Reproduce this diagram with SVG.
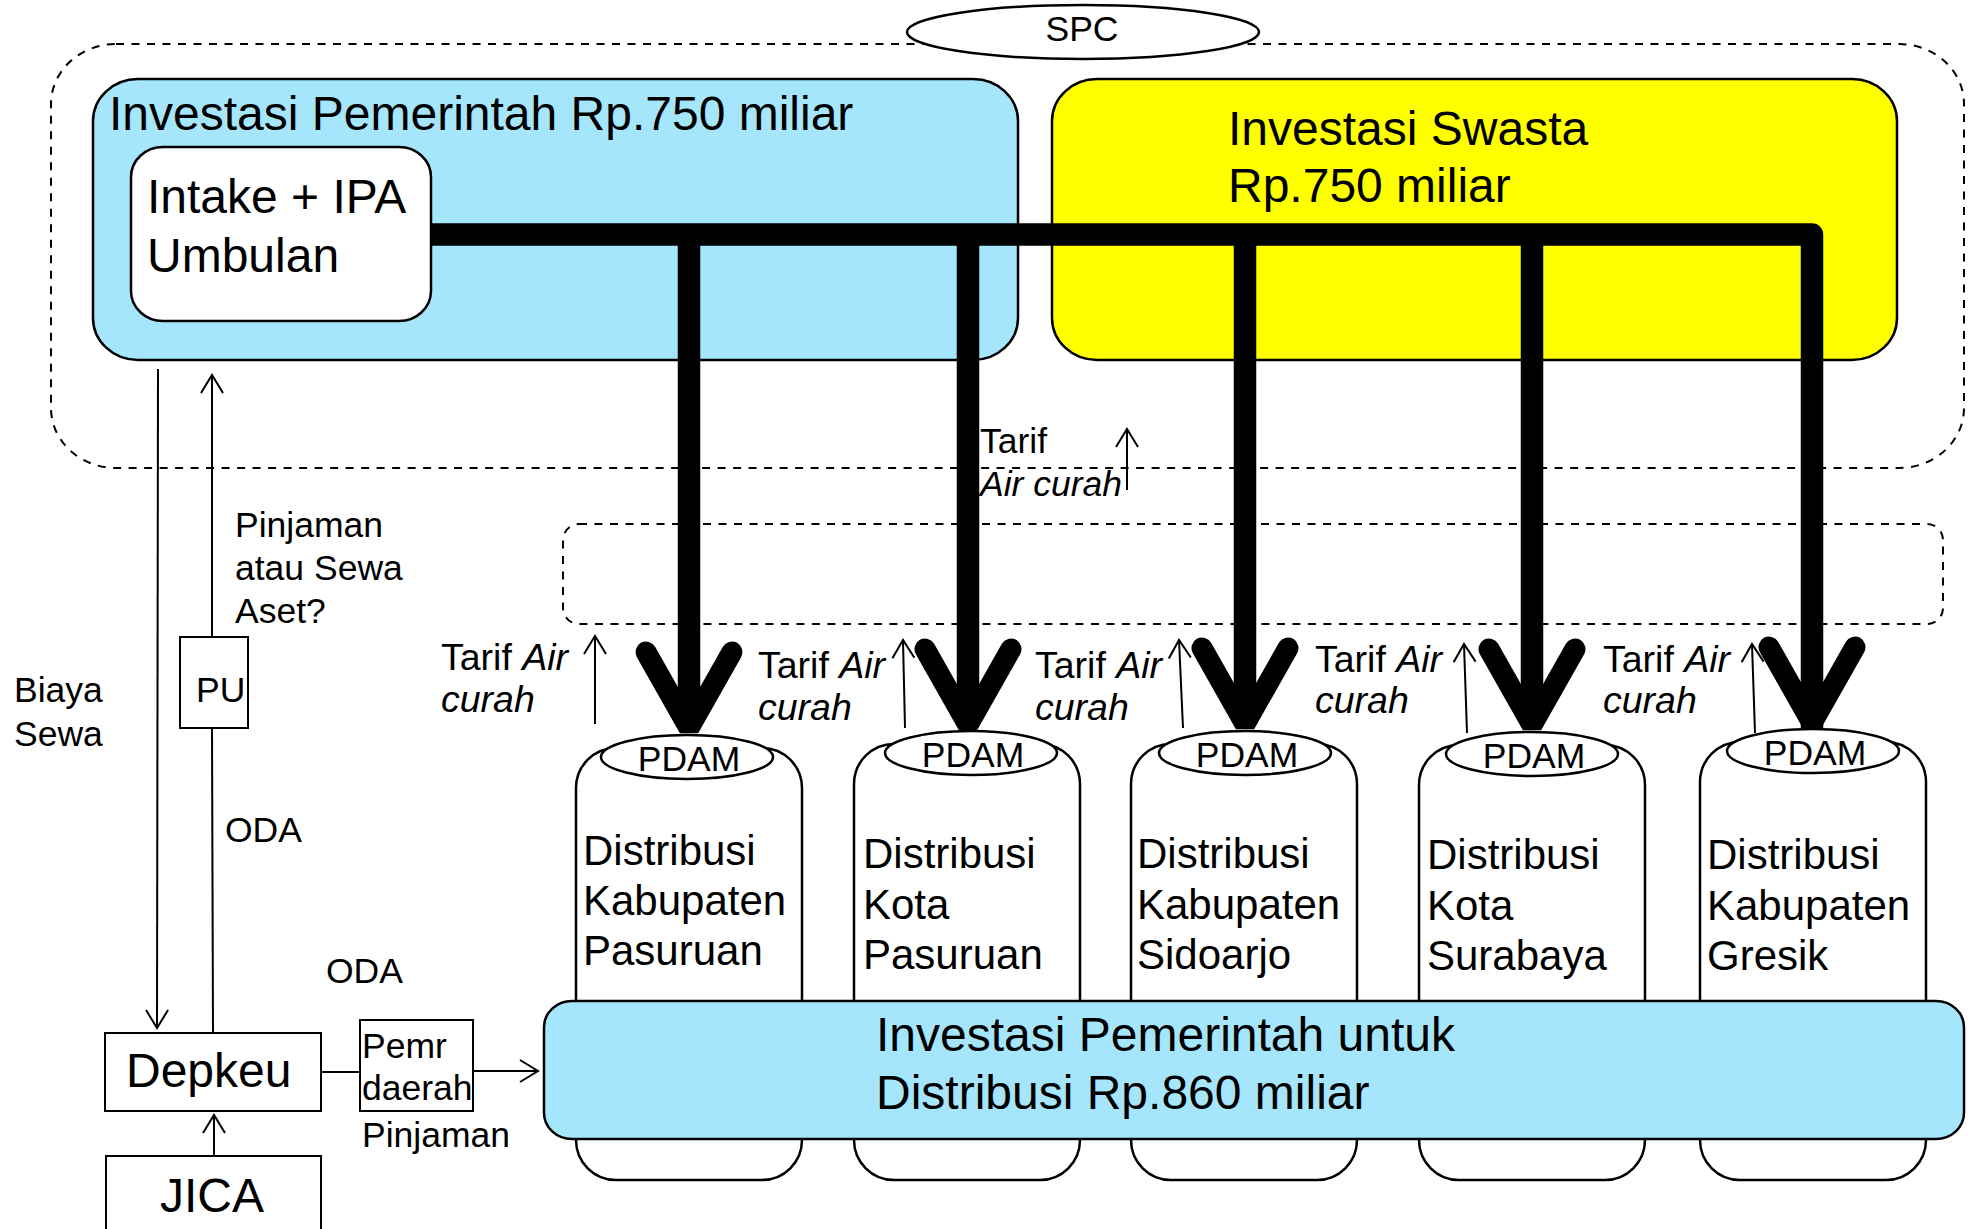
<svg xmlns="http://www.w3.org/2000/svg" width="1968" height="1229" viewBox="0 0 1968 1229">
  <style>
    text { font-family: "Liberation Sans", Arial, sans-serif; fill: #000; }
    .big { font-size: 48px; }
    .dist { font-size: 42px; }
    .mid { font-size: 35.5px; }
    .lbl { font-size: 37.5px; }
    .it { font-style: italic; }
    .box { stroke: #000; stroke-width: 2.5; }
    .blue { fill: #a5e6fc; }
    .yellow { fill: #ffff00; }
    .white { fill: #fff; }
    .dash { fill: none; stroke: #000; stroke-width: 2; stroke-dasharray: 8 7.5; }
    .thin { fill: none; stroke: #000; stroke-width: 2; }
    .pipe { fill: none; stroke: #000; stroke-width: 22.5; stroke-linejoin: round; }
    .head { fill: none; stroke: #000; stroke-width: 21; stroke-linecap: round; stroke-linejoin: bevel; }
  </style>
  <defs>
    <marker id="open" markerUnits="userSpaceOnUse" markerWidth="30" markerHeight="30" refX="20" refY="12" orient="auto" viewBox="0 0 30 24">
      <path d="M2,1 L20,12 L2,23" fill="none" stroke="#000" stroke-width="2"/>
    </marker>
  </defs>

  <!-- SPC boundary -->
  <g id="spc">
    <rect x="51" y="44" width="1913" height="424" rx="65" ry="60" class="dash"/>
    <ellipse cx="1083" cy="32" rx="176" ry="27" class="white box"/>
    <text x="1082" y="41" class="mid" text-anchor="middle">SPC</text>
  </g>

  <!-- government investment (bulk) -->
  <g id="invest-pemerintah">
    <rect x="93" y="79" width="925" height="281" rx="45" ry="42" class="blue box"/>
    <text x="109" y="130" class="big">Investasi Pemerintah Rp.750 miliar</text>
  </g>

  <!-- private investment -->
  <g id="invest-swasta">
    <rect x="1052" y="79" width="845" height="281" rx="45" ry="42" class="yellow box"/>
    <text x="1228" y="145" class="big">Investasi Swasta</text>
    <text x="1228" y="202" class="big">Rp.750 miliar</text>
  </g>

  <!-- intake + treatment plant -->
  <g id="intake">
    <rect x="131" y="147" width="300" height="174" rx="32" ry="30" class="white box"/>
    <text x="147" y="213" class="big">Intake + IPA</text>
    <text x="147" y="272" class="big">Umbulan</text>
  </g>

  <!-- PDAB boundary -->
  <g id="pdab">
    <rect x="563" y="524" width="1380" height="100" rx="16" ry="16" class="dash"/>
  </g>

  <!-- distribution columns -->
  <g id="pdam-1">
    <rect x="576" y="748" width="226" height="432" rx="40" ry="40" class="white box"/>
    <ellipse cx="687" cy="757" rx="86" ry="22" class="white box"/>
    <text x="689" y="771" class="mid" text-anchor="middle">PDAM</text>
    <text x="583" y="865" class="dist">Distribusi</text>
    <text x="583" y="915" class="dist">Kabupaten</text>
    <text x="583" y="965" class="dist">Pasuruan</text>
  </g>
  <g id="pdam-2">
    <rect x="854" y="744" width="226" height="436" rx="40" ry="40" class="white box"/>
    <ellipse cx="971" cy="753" rx="86" ry="22" class="white box"/>
    <text x="973" y="767" class="mid" text-anchor="middle">PDAM</text>
    <text x="863" y="868" class="dist">Distribusi</text>
    <text x="863" y="919" class="dist">Kota</text>
    <text x="863" y="969" class="dist">Pasuruan</text>
  </g>
  <g id="pdam-3">
    <rect x="1131" y="744" width="226" height="436" rx="40" ry="40" class="white box"/>
    <ellipse cx="1245" cy="753" rx="86" ry="22" class="white box"/>
    <text x="1247" y="767" class="mid" text-anchor="middle">PDAM</text>
    <text x="1137" y="868" class="dist">Distribusi</text>
    <text x="1137" y="919" class="dist">Kabupaten</text>
    <text x="1137" y="969" class="dist">Sidoarjo</text>
  </g>
  <g id="pdam-4">
    <rect x="1419" y="745" width="226" height="435" rx="40" ry="40" class="white box"/>
    <ellipse cx="1532" cy="754" rx="86" ry="22" class="white box"/>
    <text x="1534" y="768" class="mid" text-anchor="middle">PDAM</text>
    <text x="1427" y="869" class="dist">Distribusi</text>
    <text x="1427" y="920" class="dist">Kota</text>
    <text x="1427" y="970" class="dist">Surabaya</text>
  </g>
  <g id="pdam-5">
    <rect x="1700" y="742" width="226" height="438" rx="40" ry="40" class="white box"/>
    <ellipse cx="1813" cy="751" rx="86" ry="22" class="white box"/>
    <text x="1815" y="765" class="mid" text-anchor="middle">PDAM</text>
    <text x="1707" y="869" class="dist">Distribusi</text>
    <text x="1707" y="920" class="dist">Kabupaten</text>
    <text x="1707" y="970" class="dist">Gresik</text>
  </g>

  <!-- government investment (distribution) -->
  <g id="invest-distribusi">
    <rect x="544" y="1001" width="1420" height="138" rx="28" ry="26" class="blue box"/>
    <text x="876" y="1051" class="big">Investasi Pemerintah untuk</text>
    <text x="876" y="1109" class="big">Distribusi Rp.860 miliar</text>
  </g>

  <!-- finance side -->
  <g id="pu">
    <rect x="180" y="637" width="68" height="91" class="white" stroke="#000" stroke-width="2"/>
    <text x="196" y="702" class="mid">PU</text>
  </g>
  <g id="depkeu">
    <rect x="105" y="1033" width="216" height="78" class="white" stroke="#000" stroke-width="2"/>
    <text x="126" y="1087" class="big">Depkeu</text>
  </g>
  <g id="pemr-daerah">
    <rect x="360" y="1020" width="113" height="91" class="white" stroke="#000" stroke-width="2"/>
    <text x="362" y="1058" class="mid">Pemr</text>
    <text x="362" y="1100" class="mid">daerah</text>
  </g>
  <g id="jica">
    <rect x="106" y="1156" width="215" height="90" class="white" stroke="#000" stroke-width="2"/>
    <text x="160" y="1212" class="big">JICA</text>
  </g>

  <!-- connectors -->
  <g id="connectors">
    <!-- bulk water mains -->
    <path class="pipe" d="M431,234.5 H1812 V728"/>
    <path class="pipe" d="M689,234.5 V728"/>
    <path class="pipe" d="M968,234.5 V725"/>
    <path class="pipe" d="M1245,234.5 V724"/>
    <path class="pipe" d="M1532,234.5 V725"/>
    <path class="head" d="M646,652 L689,728 L732,652"/>
    <path class="head" d="M925,649 L968,725 L1011,649"/>
    <path class="head" d="M1202,648 L1245,724 L1288,648"/>
    <path class="head" d="M1489,649 L1532,725 L1575,649"/>
    <path class="head" d="M1769,647 L1812,723 L1855,647"/>

    <!-- tariff flows -->
    <line class="thin" x1="595" y1="724" x2="595" y2="636" marker-end="url(#open)"/>
    <line class="thin" x1="905" y1="728" x2="903" y2="640" marker-end="url(#open)"/>
    <line class="thin" x1="1183" y1="728" x2="1179" y2="640" marker-end="url(#open)"/>
    <line class="thin" x1="1467" y1="733" x2="1464" y2="644" marker-end="url(#open)"/>
    <line class="thin" x1="1755" y1="733" x2="1752" y2="644" marker-end="url(#open)"/>
    <line class="thin" x1="1127" y1="490" x2="1127" y2="429" marker-end="url(#open)"/>

    <!-- funding flows -->
    <line class="thin" x1="158" y1="369" x2="157" y2="1028" marker-end="url(#open)"/>
    <line class="thin" x1="212" y1="637" x2="212" y2="375" marker-end="url(#open)"/>
    <line class="thin" x1="212" y1="728" x2="213" y2="1033"/>
    <line class="thin" x1="214" y1="1156" x2="214" y2="1115" marker-end="url(#open)"/>
    <line class="thin" x1="321" y1="1072" x2="360" y2="1072"/>
    <line class="thin" x1="473" y1="1071" x2="538" y2="1071" marker-end="url(#open)"/>
  </g>

  <!-- flow labels -->
  <g id="labels">
    <text x="980" y="453" class="mid">Tarif</text>
    <text x="980" y="496" class="mid it">Air curah</text>
    <text x="441" y="670" class="lbl">Tarif <tspan class="it">Air</tspan></text>
    <text x="441" y="712" class="lbl it">curah</text>
    <text x="758" y="678" class="lbl">Tarif <tspan class="it">Air</tspan></text>
    <text x="758" y="720" class="lbl it">curah</text>
    <text x="1035" y="678" class="lbl">Tarif <tspan class="it">Air</tspan></text>
    <text x="1035" y="720" class="lbl it">curah</text>
    <text x="1315" y="672" class="lbl">Tarif <tspan class="it">Air</tspan></text>
    <text x="1315" y="713" class="lbl it">curah</text>
    <text x="1603" y="672" class="lbl">Tarif <tspan class="it">Air</tspan></text>
    <text x="1603" y="713" class="lbl it">curah</text>
    <text x="235" y="537" class="mid">Pinjaman</text>
    <text x="235" y="580" class="mid">atau Sewa</text>
    <text x="235" y="623" class="mid">Aset?</text>
    <text x="14" y="702" class="mid">Biaya</text>
    <text x="14" y="746" class="mid">Sewa</text>
    <text x="225" y="842" class="mid">ODA</text>
    <text x="326" y="983" class="mid">ODA</text>
    <text x="362" y="1147" class="mid">Pinjaman</text>
  </g>
</svg>
